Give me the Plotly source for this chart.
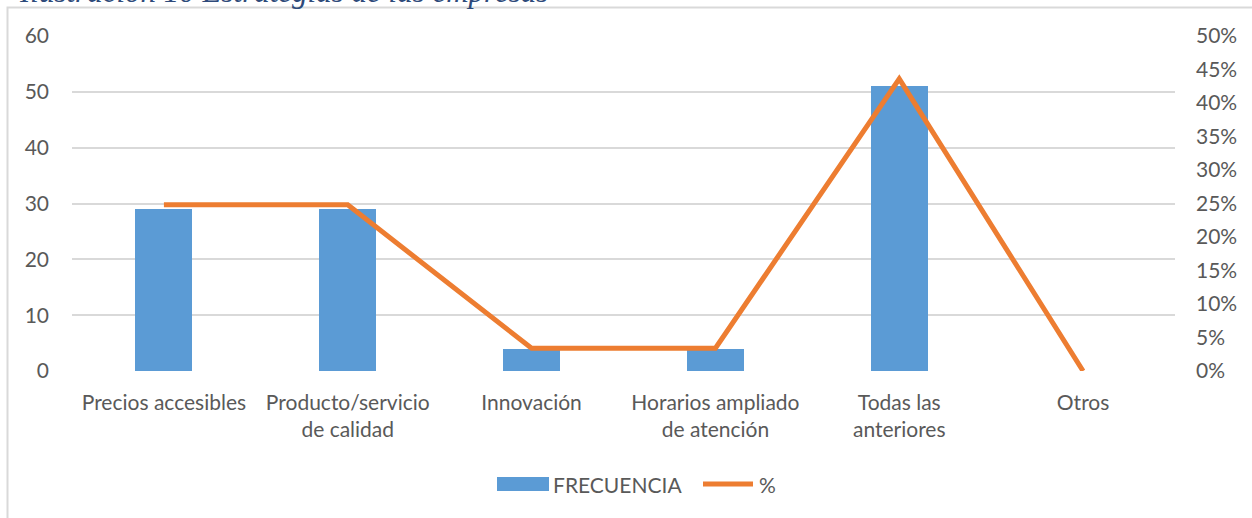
import plotly.graph_objects as go

categories = ["Precios accesibles", "Producto/servicio<br>de calidad", "Innovación",
              "Horarios ampliado<br>de atención", "Todas las<br>anteriores", "Otros"]
frecuencia = [29, 29, 4, 4, 51, 0]
porcentaje = [0.248, 0.248, 0.034, 0.034, 0.436, 0.0]
left_ticks = [0, 10, 20, 30, 40, 50, 60]
right_ticks = [0, 0.05, 0.10, 0.15, 0.20, 0.25, 0.30, 0.35, 0.40, 0.45, 0.50]
caption = "Ilustración 10 Estrategias de las empresas"

FONT = "Lato"
FS = 21
GREY = "#595959"
BLUE = "#5B9BD5"
ORANGE = "#ED7D31"

W, H = 1252, 518
# plot area in page pixels: x 72..1175, y 36..371
PL, PR, PT, PB = 72, 1175, 36, 371
L, T = PL, PT
R = W - PR
B = H - PB
pw, ph = PR - PL, PB - PT

def px(x):
    return (x - PL) / pw

def py(y):
    return (PB - y) / ph

fig = go.Figure()
fig.add_trace(go.Bar(x=categories, y=frecuencia, name="FRECUENCIA", width=0.31,
                     marker=dict(color=BLUE, line=dict(width=0)),
                     showlegend=False))
fig.add_trace(go.Scatter(x=categories, y=porcentaje, name="%", yaxis="y2", mode="lines",
                         line=dict(color=ORANGE, width=5), showlegend=False))

fig.update_layout(
    width=W, height=H,
    margin=dict(l=L, r=R, t=T, b=B),
    paper_bgcolor="white", plot_bgcolor="white",
    font=dict(family=FONT, size=FS, color=GREY),
    bargap=0,
    xaxis=dict(showgrid=False, showline=False, ticks="", ticklabelstandoff=17,
               tickfont=dict(size=FS, color=GREY)),
    yaxis=dict(range=[0, 60], tickvals=left_ticks, showgrid=True, gridcolor="#D9D9D9",
               gridwidth=1.5, zeroline=False, showline=False, ticks="",
               ticklabelstandoff=22, tickfont=dict(size=FS, color=GREY)),
    yaxis2=dict(range=[0, 0.5], tickvals=right_ticks, tickformat=".0%", overlaying="y",
                side="right", showgrid=False, zeroline=False, showline=False, ticks="",
                ticklabelstandoff=20, tickfont=dict(size=FS, color=GREY)),
    showlegend=False,
)

shapes = [
    dict(type="rect", xref="paper", yref="paper", x0=px(7.5), x1=px(1300), y0=py(560), y1=py(7.5),
         line=dict(color="#D9D9D9", width=2), fillcolor="rgba(0,0,0,0)", layer="below"),
    dict(type="rect", xref="paper", yref="paper", x0=px(497), x1=px(549), y0=py(491), y1=py(477),
         line=dict(width=0), fillcolor=BLUE),
    dict(type="line", xref="paper", yref="paper", x0=px(703), x1=px(753), y0=py(484), y1=py(484),
         line=dict(color=ORANGE, width=5)),
]
annotations = [
    dict(text="FRECUENCIA", xref="paper", yref="paper", x=px(551), y=py(484), xanchor="left",
         yanchor="middle", showarrow=False, font=dict(size=FS, color=GREY, family=FONT)),
    dict(text="%", xref="paper", yref="paper", x=px(757), y=py(484), xanchor="left",
         yanchor="middle", showarrow=False, font=dict(size=FS, color=GREY, family=FONT)),
    dict(text="<i>" + caption + "</i>", xref="paper", yref="paper", x=px(17), y=py(11),
         xanchor="left", yanchor="bottom", showarrow=False,
         font=dict(size=31, color="#2E4A7A", family="Liberation Serif")),
]
fig.update_layout(shapes=shapes, annotations=annotations)

fig.write_html("out.html", config={"displayModeBar": False},
               post_script="document.body.style.margin='0';")
